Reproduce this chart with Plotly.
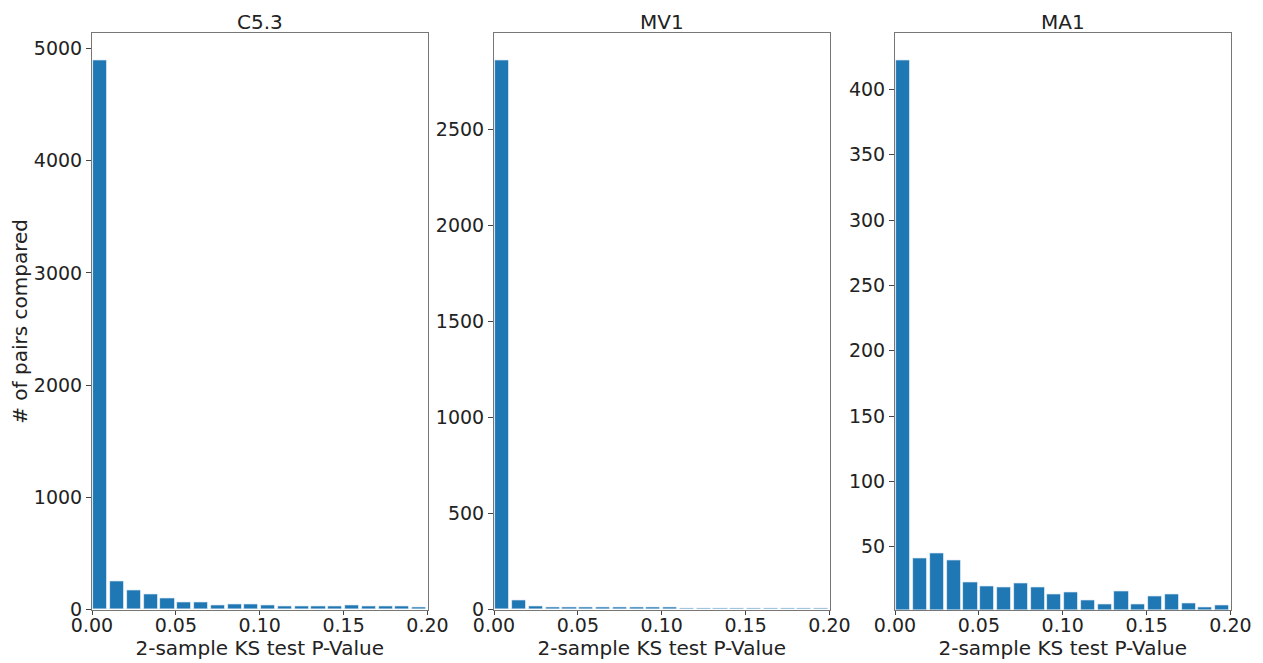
import plotly.graph_objects as go

# ---- data ----
bin_left = [0.00, 0.01, 0.02, 0.03, 0.04, 0.05, 0.06, 0.07, 0.08, 0.09,
            0.10, 0.11, 0.12, 0.13, 0.14, 0.15, 0.16, 0.17, 0.18, 0.19]
bin_width = 0.01

panel_titles = ["C5.3", "MV1", "MA1"]

counts_c53 = [4890, 253, 172, 137, 98, 63, 63, 38, 50, 50,
              40, 33, 33, 33, 33, 38, 32, 32, 32, 22]
counts_mv1 = [2857, 47, 17, 13, 11, 12, 12, 14, 11, 10,
              9, 6, 6, 5, 6, 5, 5, 5, 4, 4]
counts_ma1 = [422, 41, 45, 40, 23, 20, 19, 22, 19, 14,
              15, 9, 6, 16, 6, 12, 14, 7, 4, 5]

x_tick_vals = [0.00, 0.05, 0.10, 0.15, 0.20]
x_tick_text = ["0.00", "0.05", "0.10", "0.15", "0.20"]
y_ticks = [
    [0, 1000, 2000, 3000, 4000, 5000],
    [0, 500, 1000, 1500, 2000, 2500],
    [50, 100, 150, 200, 250, 300, 350, 400],
]
y_ranges = [[0, 5135], [0, 3000], [2, 443]]

x_title = "2-sample KS test P-Value"
y_title = "# of pairs compared"

# ---- figure ----
# the page body has an 8px margin, so the figure is drawn offset by (8, 8)
OFF = 8
W, H = 1263 - OFF, 663 - OFF
lefts = [92 - OFF, 494 - OFF, 895 - OFF]
pw = 335.5
top_px, bot_px = 33.3 - OFF, 609.5 - OFF
title_cy = 22 - OFF

bar_color = "#1f77b4"
font_family = "DejaVu Sans"
tick_font = dict(family=font_family, size=19, color="#222")
lab_font = dict(family=font_family, size=20, color="#222")

fig = go.Figure()

all_counts = [counts_c53, counts_mv1, counts_ma1]
centers = [b + bin_width / 2 for b in bin_left]

for i, cnt in enumerate(all_counts):
    ax = "" if i == 0 else str(i + 1)
    fig.add_trace(go.Bar(
        x=centers, y=cnt, width=bin_width * 0.84,
        marker=dict(color=bar_color, line=dict(color="#e8f0f8", width=0.8)),
        xaxis="x" + ax, yaxis="y" + ax, showlegend=False,
    ))
    dom_x = [lefts[i] / W, (lefts[i] + pw) / W]
    dom_y = [(H - bot_px) / H, (H - top_px) / H]
    axis_common = dict(
        showline=True, linecolor="#777", linewidth=1, mirror=True,
        showgrid=False, zeroline=False, ticks="outside",
        tickcolor="#444", tickwidth=1, tickfont=tick_font,
    )
    fig.layout["xaxis" + ax] = dict(
        domain=dom_x, range=[0, 0.2], tickvals=x_tick_vals, ticktext=x_tick_text,
        anchor="y" + ax, ticklen=4, ticklabelstandoff=-5,
        title=dict(text=x_title, font=lab_font, standoff=0),
        **axis_common,
    )
    yd = dict(
        domain=dom_y, range=y_ranges[i], tickvals=y_ticks[i],
        anchor="x" + ax, ticklen=5, **axis_common,
    )
    if i == 0:
        yd["title"] = dict(text=y_title, font=lab_font, standoff=6)
    fig.layout["yaxis" + ax] = yd
    fig.add_annotation(
        text=panel_titles[i], x=(lefts[i] + pw / 2) / W, y=(H - title_cy) / H,
        xref="paper", yref="paper", xanchor="center", yanchor="middle",
        showarrow=False, font=lab_font,
    )

fig.update_layout(
    width=W, height=H,
    margin=dict(l=0, r=0, t=0, b=0, autoexpand=False),
    paper_bgcolor="white", plot_bgcolor="white",
    bargap=0,
)

fig.write_html("out.html")
